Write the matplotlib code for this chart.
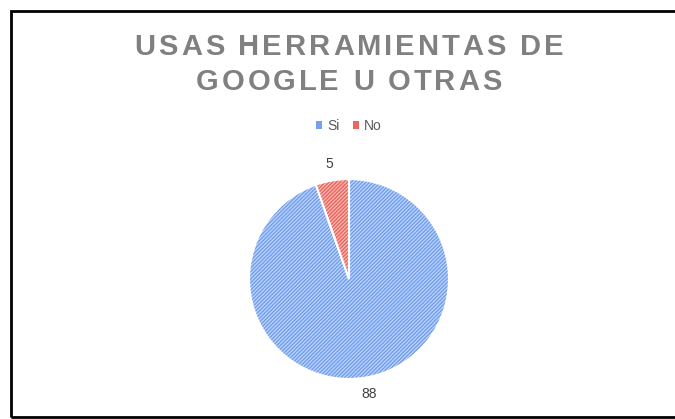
import matplotlib
matplotlib.use("Agg")
from matplotlib import pyplot as plt
from matplotlib.font_manager import FontProperties
from matplotlib.patches import Rectangle, Wedge
from matplotlib.textpath import TextToPath

labels = ["Si", "No"]
values = [88, 5]
title_lines = ["USAS HERRAMIENTAS DE", "GOOGLE U OTRAS"]
face_colors = ["#c6d9f9", "#f7c0bb"]
hatch_colors = ["#73a0ef", "#ec675f"]

W, H = 675, 419
fig = plt.figure(figsize=(W / 100, H / 100), dpi=100)

# outer frame
fig.patches.append(
    Rectangle((11 / W, 2 / H), 1.0, 1 - 13 / H, transform=fig.transFigure,
              fill=False, edgecolor="black", linewidth=2)
)

# title with wide letter spacing (matplotlib has no tracking, so place glyphs)
title_prop = FontProperties(family="Liberation Sans", weight="bold", size=21)
t2p = TextToPath()


def advance(c):
    w_hh = t2p.get_text_width_height_descent("HH", title_prop, ismath=False)[0]
    w_hch = t2p.get_text_width_height_descent("H" + c + "H", title_prop, ismath=False)[0]
    return (w_hch - w_hh) * 100 / 72  # points -> pixels


def spaced_text(s, xc, yc, spacing):
    adv = [advance(c) for c in s]
    total = sum(adv) + spacing * (len(s) - 1)
    x = xc - total / 2
    for c, a in zip(s, adv):
        if c != " ":
            fig.text(x / W, 1 - yc / H, c, ha="left", va="center",
                     fontproperties=title_prop, color="#808080")
        x += a + spacing


natural = sum(advance(c) for c in title_lines[0])
spacing = (429 - natural) / (len(title_lines[0]) - 1)
spaced_text(title_lines[0], 349, 47, spacing)
spaced_text(title_lines[1], 349, 82, spacing)

cx, cy, r = 349, 279, 100
ax = fig.add_axes([(cx - r) / W, (H - cy - r) / H, 2 * r / W, 2 * r / H])

wedges, texts = ax.pie(
    values, labels=[str(v) for v in values], startangle=90, counterclock=False,
    colors=face_colors, labeldistance=1.17, radius=1,
    wedgeprops=dict(edgecolor="white", linewidth=1.5),
    textprops=dict(fontsize=10, color="#404040", family="Liberation Sans"),
)
ax.set_xlim(-1, 1)
ax.set_ylim(-1, 1)
ax.axis("off")
for t in texts:
    t.set_ha("center")
    t.set_va("center")

plt.rcParams["hatch.linewidth"] = 1.1
for w, hc in zip(wedges, hatch_colors):
    hw = Wedge(w.center, w.r, w.theta1, w.theta2, fill=False, hatch="/////////",
               edgecolor=hc, linewidth=0)
    ax.add_patch(hw)
    ow = Wedge(w.center, w.r, w.theta1, w.theta2, fill=False,
               edgecolor="white", linewidth=1.5)
    ax.add_patch(ow)

# legend
handles = [plt.Rectangle((0, 0), 1, 1, facecolor=c) for c in hatch_colors]
fig.legend(handles, labels, loc="center", bbox_to_anchor=(0.517, 1 - 126 / H),
           ncols=2, frameon=False, handlelength=0.45, handleheight=0.45,
           handletextpad=0.35, columnspacing=1.0,
           prop=dict(family="Liberation Sans", size=10), labelcolor="#595959")

fig.savefig("out.png", dpi=100)
